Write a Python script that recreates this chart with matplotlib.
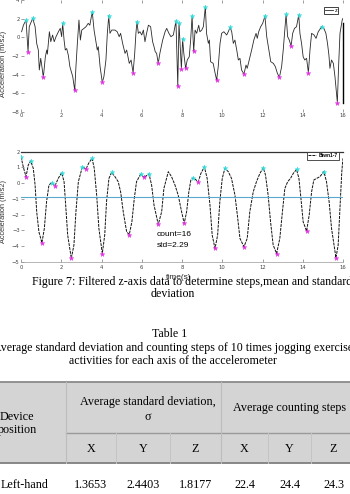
import numpy as np
import matplotlib
matplotlib.use("Agg")
from matplotlib import pyplot as plt
from matplotlib.patches import Rectangle
from matplotlib.lines import Line2D

# raw z-axis acceleration (time s, m/s2)
raw_z = [
    (0.03, 0.6), (0.12, 1.3), (0.25, 1.85), (0.35, -1.54), (0.41, 1.14), (0.58, 2.04), (0.70, 1.14),
    (0.78, -0.65), (0.86, -1.36), (0.91, -3.5), (0.98, -2.25), (1.04, -3.15), (1.11, -4.29),
    (1.21, -2.08), (1.28, -1.36), (1.31, -1.8), (1.41, 0.6), (1.48, -0.47), (1.57, 0.25),
    (1.65, -0.47), (1.74, 0.07), (1.86, 0.6), (1.95, 0.96), (2.02, 0.07), (2.07, 1.5),
    (2.14, -0.29), (2.20, -1.36), (2.27, -1.2), (2.35, -1.9), (2.43, -3.15), (2.57, -4.2),
    (2.67, -5.68), (2.73, -3.15), (2.80, -0.65), (2.88, 1.85), (2.95, -0.29), (3.02, 0.78),
    (3.13, 0.96), (3.23, 1.14), (3.34, 1.5), (3.42, 1.3), (3.54, 2.75), (3.63, 0.78),
    (3.71, -0.29), (3.79, -1.36), (3.84, -1.0), (3.93, -3.15), (4.04, -4.83), (4.12, -4.2),
    (4.22, -2.43), (4.29, 0.43), (4.36, 2.3), (4.42, 0.43), (4.51, 0.78), (4.67, 0.78),
    (4.78, 0.6), (4.88, 0.07), (4.95, 0.43), (5.05, -0.65), (5.17, -1.72), (5.25, -1.36),
    (5.38, -2.79), (5.47, -2.43), (5.57, -3.79), (5.65, -1.72), (5.71, 0.43), (5.76, 1.67),
    (5.83, 0.43), (5.91, 0.6), (6.00, 0.25), (6.08, 0.78), (6.16, -0.47), (6.24, 0.43),
    (6.33, 1.3), (6.44, 1.14), (6.54, -0.47), (6.61, -1.0), (6.67, -1.54), (6.74, -1.72),
    (6.82, -2.79), (6.90, -1.72), (7.04, -0.29), (7.16, 0.6), (7.24, 0.96), (7.35, 0.43),
    (7.45, 0.07), (7.57, 0.25), (7.70, 1.75), (7.79, -5.19), (7.85, 1.55), (7.97, -3.43),
    (8.03, -0.18), (8.09, -1.72), (8.18, -3.32), (8.26, -2.43), (8.36, -2.08), (8.43, -0.29),
    (8.50, 2.28), (8.58, -1.47), (8.65, 0.78), (8.73, 0.43), (8.83, 1.3), (8.89, 0.6),
    (8.98, 0.78), (9.06, 1.14), (9.16, 3.28), (9.22, 0.43), (9.31, -0.65), (9.36, -0.29),
    (9.42, -2.61), (9.55, -2.79), (9.63, -3.68), (9.72, -4.58), (9.80, -3.15), (9.89, -0.65),
    (9.97, 0.43), (10.08, 0.6), (10.22, 0.25), (10.30, 0.6), (10.39, 1.07), (10.47, 0.6),
    (10.55, -0.65), (10.63, -0.29), (10.72, -1.36), (10.80, -2.43), (10.88, -2.25),
    (10.96, -3.5), (11.08, -3.93), (11.18, -2.97), (11.24, -3.32), (11.34, -2.43),
    (11.46, -1.36), (11.57, -0.29), (11.68, 0.43), (11.74, -0.11), (11.81, 0.6), (11.91, 1.14),
    (12.01, 1.5), (12.12, 2.28), (12.21, 0.07), (12.29, -1.0), (12.41, -2.61), (12.54, -2.79),
    (12.64, -3.15), (12.74, -3.86), (12.84, -4.29), (12.95, -3.15), (13.03, -1.36),
    (13.12, 1.14), (13.17, 2.46), (13.25, 0.07), (13.33, -0.29), (13.42, -0.93), (13.50, 0.43),
    (13.59, 0.96), (13.69, 1.14), (13.80, 2.39), (13.86, 0.43), (13.94, -0.65), (14.02, -2.08),
    (14.10, -2.43), (14.19, -2.25), (14.28, -3.79), (14.36, -1.36), (14.44, 0.43),
    (14.56, 0.25), (14.66, -0.11), (14.77, 0.6), (14.94, 1.14), (15.05, 0.96), (15.15, 0.43),
    (15.23, -0.65), (15.30, -1.9), (15.35, -3.32), (15.43, -2.43), (15.52, -2.79),
    (15.60, -4.2), (15.72, -7.0), (15.78, -3.15), (15.85, 0.43), (15.96, 1.85), (16.0, 2.04),
]
raw_peak_t = [0.25, 0.58, 2.07, 3.54, 4.36, 5.76, 7.70, 7.85, 8.03, 8.50, 9.16, 10.39, 12.12, 13.17, 13.80, 14.94]
raw_peak_z = [1.85, 2.04, 1.5, 2.75, 2.3, 1.67, 1.75, 1.55, -0.18, 2.28, 3.28, 1.07, 2.28, 2.46, 2.39, 1.14]
raw_valley_t = [0.35, 1.11, 2.67, 4.04, 5.57, 6.82, 7.79, 7.97, 8.18, 8.58, 9.72, 11.08, 12.84, 13.42, 14.28, 15.72]
raw_valley_z = [-1.54, -4.29, -5.68, -4.83, -3.79, -2.79, -5.19, -3.43, -3.32, -1.47, -4.58, -3.93, -4.29, -0.93, -3.79, -7.0]

# filtered z-axis data, lower panel
filt_z = [
    (0.0, 1.68), (0.12, 1.0), (0.25, 0.41), (0.36, 1.15), (0.48, 1.41), (0.61, 0.94),
    (0.70, -0.12), (0.78, -1.82), (0.89, -3.1), (1.04, -3.8), (1.16, -2.88), (1.27, -1.18),
    (1.39, -0.12), (1.52, 0.03), (1.69, -0.17), (1.85, 0.30), (2.02, 0.66), (2.14, 0.09),
    (2.22, -1.40), (2.32, -3.31), (2.50, -4.79), (2.63, -3.94), (2.73, -1.82), (2.85, 0.09),
    (3.05, 1.04), (3.23, 0.9), (3.36, 1.26), (3.53, 1.58), (3.64, 0.94), (3.76, -0.76),
    (3.87, -2.88), (4.04, -4.48), (4.16, -3.31), (4.25, -1.18), (4.37, 0.30), (4.50, 0.68),
    (4.67, 0.41), (4.83, 0.09), (4.95, -0.55), (5.08, -1.82), (5.25, -3.1), (5.38, -3.27),
    (5.51, -2.46), (5.63, -0.97), (5.74, 0.09), (5.94, 0.56), (6.11, 0.37), (6.36, 0.58),
    (6.49, -0.12), (6.61, -1.40), (6.82, -2.63), (6.99, -1.82), (7.10, -0.34), (7.32, 0.73),
    (7.48, 0.41), (7.65, -0.12), (7.81, -0.76), (7.98, -1.82), (8.11, -2.56), (8.23, -1.82),
    (8.34, -0.55), (8.44, 0.20), (8.56, 0.34), (8.81, 0.09), (8.94, 0.62), (9.11, 1.04),
    (9.25, 0.30), (9.39, -1.40), (9.50, -3.31), (9.64, -4.16), (9.77, -3.31), (9.88, -1.18),
    (10.0, 0.30), (10.13, 0.94), (10.30, 0.73), (10.46, 0.30), (10.63, -0.76), (10.75, -2.03),
    (10.88, -3.52), (11.08, -4.05), (11.24, -3.52), (11.37, -1.82), (11.54, -0.55),
    (11.70, 0.09), (11.87, 0.62), (12.04, 0.98), (12.15, 0.51), (12.28, -0.76), (12.40, -2.46),
    (12.53, -3.94), (12.70, -4.48), (12.86, -3.52), (12.99, -1.82), (13.11, -0.34),
    (13.25, 0.09), (13.39, 0.30), (13.53, 0.62), (13.69, 0.87), (13.81, 0.30), (13.91, -0.97),
    (14.02, -2.46), (14.19, -3.05), (14.32, -2.03), (14.44, -0.55), (14.55, 0.20),
    (14.69, 0.30), (14.85, 0.41), (15.05, 0.73), (15.18, 0.09), (15.31, -1.18), (15.43, -2.88),
    (15.65, -4.75), (15.76, -3.94), (15.84, -1.82), (15.94, 0.73), (16.0, 1.58),
]
filt_peak_t = [0.0, 0.48, 1.52, 2.02, 3.05, 3.53, 4.50, 5.94, 6.36, 8.56, 9.11, 10.13, 12.04, 13.69, 15.05]
filt_peak_z = [1.68, 1.41, 0.03, 0.66, 1.04, 1.58, 0.68, 0.56, 0.58, 0.34, 1.04, 0.94, 0.98, 0.87, 0.73]
filt_valley_t = [0.25, 1.04, 1.69, 2.5, 3.23, 4.04, 5.38, 6.11, 6.82, 8.11, 8.81, 9.64, 11.08, 12.70, 14.19, 15.65]
filt_valley_z = [0.41, -3.8, -0.17, -4.79, 0.9, -4.48, -3.27, 0.37, -2.63, -2.56, 0.09, -4.16, -4.05, -4.48, -3.05, -4.75]
mean_z = -0.86
step_count = 16
std_z = 2.29

# table 1
axis_names = ["X", "Y", "Z", "X", "Y", "Z"]
row_name = "Left-hand"
row_values = ["1.3653", "2.4403", "1.8177", "22.4", "24.4", "24.3"]

W, H = 350, 494
fig = plt.figure(figsize=(W / 100, H / 100), dpi=100)


def fx(px):
    return px / W


def fy(py):
    return 1 - py / H


sans = "Liberation Sans"
serif = "Liberation Serif"
tick_kw = dict(direction="in", length=2, width=0.5, color="#777777", labelsize=3.8,
               labelcolor="#444444", pad=1)

# ---- upper panel: raw data
ax1 = fig.add_axes([fx(21), fy(112), fx(322), 112 / H])
t1, z1 = np.array(raw_z).T
ax1.plot(t1, z1, color="#2a2a2a", lw=0.6, label="z")
ax1.plot(raw_peak_t, raw_peak_z, "*", color="#33dddd", ms=3.5, mew=0.3)
ax1.plot(raw_valley_t, raw_valley_z, "*", color="#e030e0", ms=3.5, mew=0.3)
ax1.set_xlim(0, 16)
ax1.set_ylim(-8, 4)
ax1.set_xticks(range(0, 17, 2))
ax1.set_yticks(range(-8, 5, 2))
ax1.tick_params(top=True, **tick_kw)
for s in ["top", "bottom", "left"]:
    ax1.spines[s].set_visible(False)
ax1.spines["right"].set_bounds(-7.05, 1.5)
ax1.spines["right"].set_linewidth(1.0)
ax1.set_ylabel("Acceleration (m/s2)", fontsize=5.5, family=sans, color="#333333")
ax1.yaxis.set_label_coords(-0.042, 0.43)
leg1 = ax1.legend(loc="upper right", bbox_to_anchor=(0.985, 0.94),
                  handlelength=1.4, handletextpad=0.3, borderpad=0.2, borderaxespad=0,
                  fancybox=False, framealpha=1, prop={"family": sans, "size": 4})
leg1.get_frame().set_edgecolor("#222222")
leg1.get_frame().set_linewidth(0.6)

# ---- lower panel: filtered data
ax2 = fig.add_axes([fx(21), fy(261.7), fx(322), 110 / H])
t2, z2 = np.array(filt_z).T
ax2.plot(t2, z2, color="#111111", lw=0.7, ls=(0, (3, 1)), label="Btwn1-7")
ax2.axhline(mean_z, color="#5aa8cc", lw=0.8)
ax2.plot(filt_peak_t, filt_peak_z, "*", color="#33dddd", ms=3.5, mew=0.3)
ax2.plot(filt_valley_t, filt_valley_z, "*", color="#e030e0", ms=3.5, mew=0.3)
ax2.set_xlim(0, 16)
ax2.set_ylim(-5, 2)
ax2.set_xticks(range(0, 17, 2))
ax2.set_yticks(range(-5, 3))
ax2.tick_params(**tick_kw)
ax2.tick_params(axis="x", pad=2.5)
ax2.spines["left"].set_visible(False)
ax2.spines["right"].set_visible(False)
ax2.spines["top"].set_color("#333333")
ax2.spines["top"].set_linewidth(0.9)
ax2.spines["bottom"].set_color("#999999")
ax2.spines["bottom"].set_linewidth(0.5)
ax2.set_ylabel("Acceleration (m/s2)", fontsize=5.3, family=sans, color="#333333")
ax2.yaxis.set_label_coords(-0.042, 0.455)
ax2.set_xlabel("time(s)", fontsize=6, family=sans, color="#222222", labelpad=0)
ax2.xaxis.set_label_coords(0.489, -0.11)
ax2.text(6.76, -3.3, f"count={step_count}", fontsize=6, family=sans, va="center")
ax2.text(6.76, -4.0, f"std={std_z}", fontsize=6, family=sans, va="center")
leg2 = ax2.legend(loc="upper right", bbox_to_anchor=(0.988, 1.0), handlelength=1.6,
                  handletextpad=0.5, borderpad=0.3, borderaxespad=0, fancybox=False,
                  framealpha=1, prop={"family": sans, "size": 3.5, "weight": "bold"})
leg2.get_frame().set_edgecolor("#333333")
leg2.get_frame().set_linewidth(0.6)

# ---- captions
cfs = 8.6
fig.text(fx(32), fy(282), "Figure 7: Filtered z-axis data to determine steps,mean and standard",
         fontsize=cfs, family=serif, va="center", ha="left")
fig.text(fx(173), fy(293.5), "deviation", fontsize=cfs, family=serif, va="center", ha="center")
fig.text(fx(170), fy(333.5), "Table 1", fontsize=cfs, family=serif, va="center", ha="center")
fig.text(fx(173), fy(347.5), "Average standard deviation and counting steps of 10 times jogging exercise",
         fontsize=cfs, family=serif, va="center", ha="center")
fig.text(fx(173), fy(361), "activities for each axis of the accelerometer",
         fontsize=cfs, family=serif, va="center", ha="center")

# ---- table
head_top, head_mid, head_bot = 381.7, 433.3, 462.7
col_edges = [65.7, 116, 170, 221, 268, 311, 356]
fig.add_artist(Rectangle((fx(-5), fy(head_bot)), fx(365), (head_bot - head_top) / H,
                         transform=fig.transFigure, facecolor="#d4d4d4", edgecolor="none"))


def hline(py, x0, x1, color, lw):
    fig.add_artist(Line2D([fx(x0), fx(x1)], [fy(py), fy(py)], transform=fig.transFigure,
                          color=color, lw=lw))


def vline(px, y0, y1, color, lw):
    fig.add_artist(Line2D([fx(px), fx(px)], [fy(y0), fy(y1)], transform=fig.transFigure,
                          color=color, lw=lw))


hline(head_top, -5, 360, "#8a8a8a", 1.3)
hline(head_mid, col_edges[0], 360, "#9a9a9a", 1.0)
hline(head_bot, -5, 360, "#7f7f7f", 1.3)
vline(col_edges[0], head_top, head_bot, "#bdbdbd", 0.8)
vline(col_edges[3], head_top, head_bot, "#bdbdbd", 0.8)
for e in [col_edges[1], col_edges[2], col_edges[4], col_edges[5]]:
    vline(e, head_mid, head_bot, "#c4c4c4", 0.7)

tfs = 8.7
fig.text(fx(17), fy(416.5), "Device", fontsize=tfs, family=serif, ha="center", va="center")
fig.text(fx(17.5), fy(430), "position", fontsize=tfs, family=serif, ha="center", va="center")
fig.text(fx(148), fy(401.5), "Average standard deviation,", fontsize=tfs, family=serif,
         ha="center", va="center")
fig.text(fx(148), fy(416.5), "σ", fontsize=tfs, family=serif, ha="center", va="center")
fig.text(fx(290), fy(408), "Average counting steps", fontsize=tfs, family=serif,
         ha="center", va="center")
for i, name in enumerate(axis_names):
    cx = (col_edges[i] + col_edges[i + 1]) / 2
    fig.text(fx(cx), fy(449), name, fontsize=tfs, family=serif, ha="center", va="center")
    fig.text(fx(cx), fy(484.5), row_values[i], fontsize=tfs, family=serif, ha="center", va="center")
fig.text(fx(0.5), fy(484.5), row_name, fontsize=tfs, family=serif, ha="left", va="center")

fig.savefig("out.png", dpi=100)
